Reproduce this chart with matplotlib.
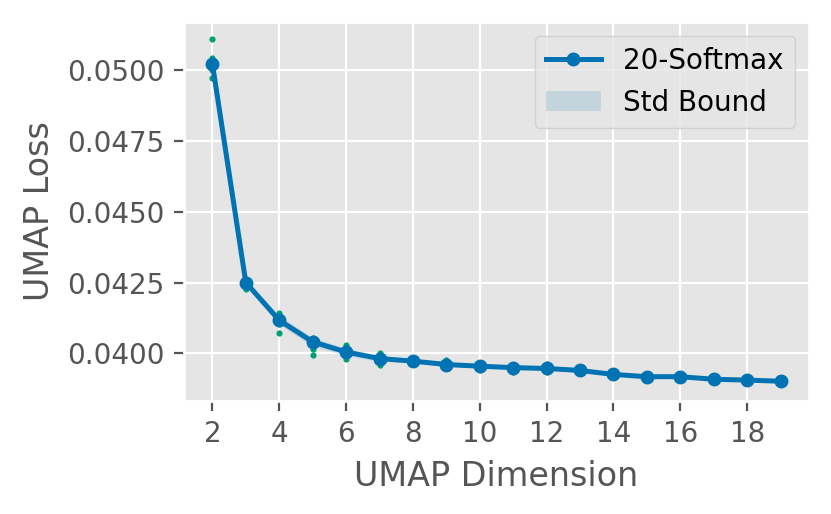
import numpy as np
import matplotlib
matplotlib.use("Agg")
from matplotlib import pyplot as plt

plt.style.use("ggplot")

# UMAP dimension vs loss, 5 runs per dimension
dims = [2, 3, 4, 5, 6, 7, 8, 9, 10, 11, 12, 13, 14, 15, 16, 17, 18, 19]
mean_loss = [0.05021, 0.04250, 0.04117, 0.04041, 0.04005, 0.03982, 0.03973,
             0.03961, 0.03955, 0.03950, 0.03947, 0.03940, 0.03926, 0.03918,
             0.03918, 0.03909, 0.03906, 0.03902]
std_loss = [0.00045, 0.00012, 0.00016, 0.00015, 0.00013, 0.00010, 0.00005,
            0.00006, 0.00005, 0.00005, 0.00005, 0.00004, 0.00003, 0.00003,
            0.00003, 0.00003, 0.00003, 0.00003]
runs = [
    [0.05108, 0.05042, 0.05015, 0.04998, 0.04972],
    [0.04226, 0.04245, 0.04250, 0.04255, 0.04262],
    [0.04143, 0.04125, 0.04110, 0.04105, 0.04072],
    [0.04055, 0.04048, 0.04040, 0.04017, 0.03994],
    [0.04031, 0.04012, 0.04005, 0.03998, 0.03982],
    [0.04002, 0.03988, 0.03982, 0.03975, 0.03958],
    [0.03980, 0.03976, 0.03973, 0.03970, 0.03966],
    [0.03978, 0.03965, 0.03960, 0.03955, 0.03950],
    [0.03962, 0.03958, 0.03955, 0.03950, 0.03940],
    [0.03960, 0.03954, 0.03950, 0.03945, 0.03935],
    [0.03964, 0.03950, 0.03946, 0.03942, 0.03936],
    [0.03948, 0.03943, 0.03940, 0.03936, 0.03932],
    [0.03932, 0.03928, 0.03926, 0.03923, 0.03920],
    [0.03924, 0.03920, 0.03918, 0.03915, 0.03912],
    [0.03924, 0.03920, 0.03918, 0.03915, 0.03912],
    [0.03914, 0.03911, 0.03909, 0.03906, 0.03903],
    [0.03911, 0.03908, 0.03906, 0.03903, 0.03900],
    [0.03908, 0.03904, 0.03902, 0.03898, 0.03893],
]

blue = "#0173B2"
green = "#029E73"

dims_arr = np.array(dims)
mean_arr = np.array(mean_loss)
std_arr = np.array(std_loss)

fig, ax = plt.subplots(figsize=(4.155, 2.57), dpi=200)
fig.subplots_adjust(left=0.2214, right=0.9735, bottom=0.2198, top=0.9572)

for d, vals in zip(dims, runs):
    ax.scatter([d] * len(vals), vals, s=5, color=green, zorder=2, linewidths=0)

line, = ax.plot(dims_arr, mean_arr, color=blue, marker="o", markersize=4,
                linewidth=1.8, label="20-Softmax", zorder=4)
band = ax.fill_between(dims_arr, mean_arr - std_arr, mean_arr + std_arr,
                       color=blue, alpha=0.15, linewidth=0, label="Std Bound",
                       zorder=3)

ax.set_xlabel("UMAP Dimension")
ax.set_ylabel("UMAP Loss")
ax.set_xticks(range(2, 19, 2))
ax.legend(handles=[line, band], loc="upper right")

fig.savefig("out.png", dpi=200)
